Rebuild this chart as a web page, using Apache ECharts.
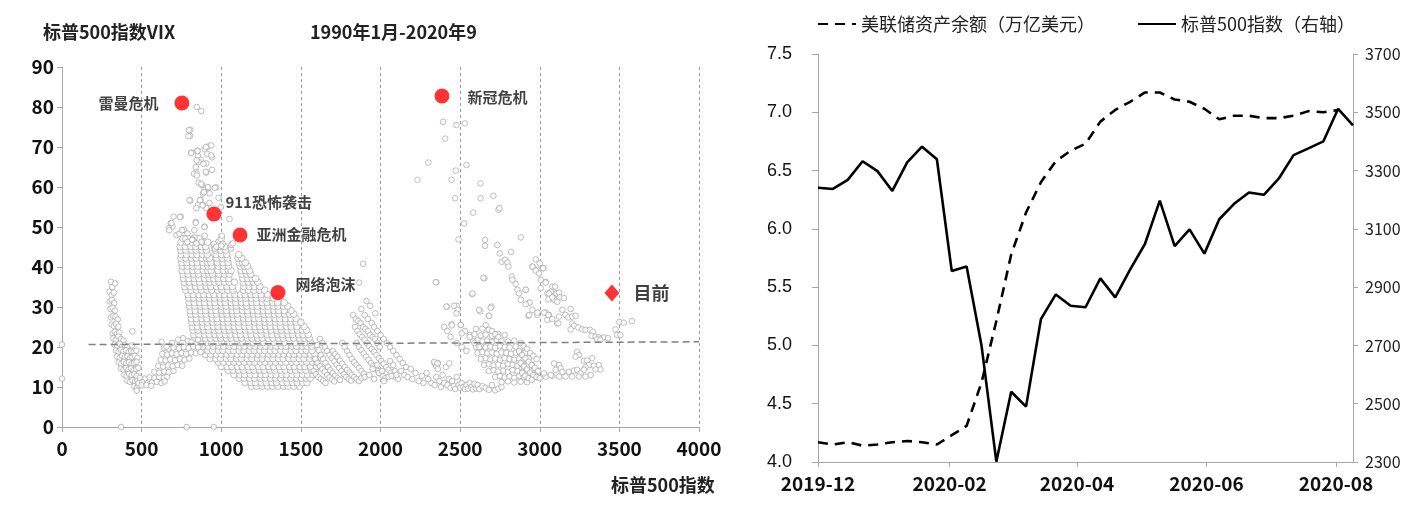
<!DOCTYPE html>
<html><head><meta charset="utf-8">
<script src="https://cdn.jsdelivr.net/npm/echarts@6/dist/echarts.min.js"></script>
<style>html,body{margin:0;padding:0;background:#fff}#c{width:1418px;height:505px}</style>
</head><body><div id="c"></div>
<script>
const MIX = '"Liberation Sans Narrow","Noto Sans CJK SC",sans-serif';
const CJK = '"Noto Sans CJK SC",sans-serif';

// ---------- Left panel: S&P500 vs VIX (1990-2020) ----------
const xTicksLeft = [0, 500, 1000, 1500, 2000, 2500, 3000, 3500, 4000];
const yTicksLeft = [0, 10, 20, 30, 40, 50, 60, 70, 80, 90];

const crisisNames = ['雷曼危机', '新冠危机', '911恐怖袭击', '亚洲金融危机', '网络泡沫'];
const crisisSpx = [753, 2386, 954, 1118, 1356];
const crisisVix = [81, 82.75, 53.25, 48, 33.6];
const currentName = ['目前'];
const currentSpx = [3453];
const currentVix = [33.5];

const meanLineSpx = [167, 4000];
const meanLineVix = [20.6, 21.3];

const oddPoints = [[0,20.6],[0,12.1],[371,0],[783,0],[953,0]];

const early1990s = [
[308,36.3],[316,35],[333,35.9],[298,33.8],[312,33],[326,33.6],[300,31.4],[314,31.8],[328,31],
[304,29.5],[318,29.8],[332,29.1],[308,27.4],[322,27.8],[336,27.6],[350,26.9],
[312,25.6],[326,25.2],[340,25.8],[354,25.1],[318,23.4],[332,23.8],[346,23.3],[360,23.6],[442,23.9],
[322,22.2],[338,21.8],[354,22.6],[370,22],[386,21.6],
[330,20.6],[346,20.3],[362,20.8],[378,20.1],[394,20.5],[410,20.2],[440,20.4],
[338,19.1],[354,18.8],[370,19.3],[386,18.9],[402,19.2],[418,18.7],[434,19],[450,18.8],[466,19.1],
[346,17.6],[362,17.3],[378,17.8],[394,17.4],[410,17.7],[426,17.2],[442,17.5],[458,17.8],[474,17.3],
[356,16.1],[372,15.8],[388,16.3],[404,15.9],[420,16.2],[436,15.7],[452,16],[468,16.3],
[370,14.6],[386,14.3],[402,14.8],[418,14.4],[434,14.7],[450,14.2],[466,14.5],[480,14.8],
[390,13.1],[406,12.8],[422,13.3],[438,12.9],[454,13.2],[470,12.7],
[410,11.6],[426,11.3],[442,11.7],[458,11.4],[474,11.6],[455,10.2],[470,9.8],[480,10.4],[469,9.1]
];

const mid1990s = [
[490,12.3],[520,12.1],[550,12.4],[580,12.2],[610,12.5],[640,12.3],[660,12.6],
[480,11],[505,11.2],[535,10.9],[565,11.1],[595,11.3],[625,11],[645,11.4],
[500,10.4],[530,10.5],[560,10.3],
[580,13.8],[610,13.6],[640,13.9],[670,13.7],[700,14],
[605,15.3],[635,15.1],[665,15.4],[695,15.2],[725,15.5],[755,15.3],
[620,16.8],[650,16.6],[680,16.9],[710,16.7],[740,17],[770,16.8],[800,17.1],
[630,18.3],[660,18.1],[690,18.4],[720,18.2],[750,18.5],[780,18.3],[810,18.6],[840,18.4],[870,18.7],
[640,19.8],[668,19.6],[700,19.9],[735,19.7],[765,20],[795,19.8],[825,20.1],[855,19.9],
[625,21.3],[656,20.1],[690,21],[729,21.8],[760,22.2],[790,21.5],[813,21.3],[854,21.8]
];

// dense 1997-2012 mass: [VIX, [S&P values]]
const denseRows = [
[10.2,[1190,1221,1257,1290,1322,1356,1391,1420,1455,1490]],
[11.1,[1150,1186,1215,1251,1283,1318,1347,1384,1414,1449,1478,1512,1538]],
[12.2,[1112,1143,1179,1210,1245,1276,1311,1342,1372,1409,1438,1473,1503,1535,1558]],
[13.1,[1080,1117,1147,1183,1213,1249,1279,1315,1345,1381,1410,1446,1476,1511,1542,1575]],
[14.2,[1043,1074,1109,1139,1175,1205,1240,1270,1306,1335,1371,1401,1436,1466,1501,1531,1565,1590]],
[15.1,[1001,1037,1067,1102,1132,1168,1198,1233,1263,1299,1328,1364,1394,1429,1459,1495,1525,1561,1598]],
[16.2,[982,1013,1049,1079,1114,1144,1180,1210,1246,1275,1311,1341,1377,1406,1442,1472,1507,1537,1573,1600]],
[17.1,[930,966,996,1032,1061,1097,1127,1163,1193,1228,1258,1294,1324,1359,1389,1425,1455,1490,1520,1556,1588]],
[18.2,[902,933,969,999,1035,1064,1100,1130,1166,1195,1231,1261,1297,1326,1362,1392,1428,1457,1493,1523,1559,1588]],
[19.1,[880,916,946,982,1011,1047,1077,1113,1142,1178,1208,1244,1273,1309,1339,1375,1404,1440,1470,1506,1535,1570]],
[20.2,[851,884,919,949,985,1014,1050,1080,1116,1145,1181,1211,1247,1276,1312,1342,1378,1407,1443,1473,1509,1538,1568]],
[21.1,[842,873,909,939,975,1004,1040,1070,1106,1135,1171,1201,1237,1266,1302,1332,1368,1397,1433,1463,1499,1528,1560]],
[22.2,[834,866,901,931,967,996,1032,1062,1098,1127,1163,1193,1229,1258,1294,1324,1360,1389,1425,1455,1491,1520,1552]],
[23.1,[828,860,895,925,961,990,1026,1056,1092,1121,1157,1187,1223,1252,1288,1318,1354,1383,1419,1449,1485,1514,1546]],
[24.2,[823,855,890,920,956,985,1021,1051,1087,1116,1152,1182,1218,1247,1283,1313,1349,1378,1414,1444,1480,1509,1535]],
[25.1,[818,850,885,915,951,980,1016,1046,1082,1111,1147,1177,1213,1242,1278,1308,1344,1373,1409,1439,1475,1520]],
[26.2,[815,847,882,912,948,977,1013,1043,1079,1108,1144,1174,1210,1239,1275,1305,1341,1370,1406,1436,1470,1500]],
[27.1,[812,844,879,909,945,974,1010,1040,1076,1105,1141,1171,1207,1236,1272,1302,1338,1367,1403,1437,1470]],
[28.2,[808,840,875,905,941,970,1006,1036,1072,1101,1137,1167,1203,1232,1268,1298,1334,1363,1399,1430,1456]],
[29.1,[805,837,872,902,938,967,1003,1033,1069,1098,1134,1164,1200,1229,1265,1295,1331,1360,1396,1438]],
[30.2,[802,834,869,899,935,964,1000,1030,1066,1095,1131,1161,1197,1226,1262,1292,1328,1357,1392,1417]],
[31.1,[798,830,865,895,931,960,996,1026,1062,1091,1127,1157,1193,1222,1258,1288,1324,1353,1395]],
[32.2,[795,827,862,892,928,957,993,1023,1059,1088,1124,1154,1190,1219,1255,1287,1330]],
[33.1,[792,824,859,889,925,954,990,1020,1056,1085,1121,1151,1187,1216,1250,1290]],
[34.2,[778,810,845,875,911,940,976,1006,1042,1073,1140,1171,1205,1240,1272]],
[35.1,[772,804,839,869,905,934,970,1000,1036,1070,1142,1176,1208,1242]],
[36.2,[767,799,834,864,900,929,958,986,1020,1050,1083,1138,1170,1201,1229]],
[37.1,[763,795,830,860,896,925,952,982,1016,1047,1135,1166,1194,1215]],
[38.2,[760,792,827,857,893,922,945,985,1019,1050,1130,1159,1185]],
[39.1,[754,786,821,851,887,916,937,979,1013,1045,1062,1125,1152,1177]],
[40.2,[755,787,822,852,888,917,940,981,1014,1046,1120,1144,1165]],
[41.1,[752,784,819,849,885,914,935,976,1010,1042,1112,1134,1152]],
[42.2,[746,778,813,843,879,908,927,972,1006,1038,1105,1128]],
[43.1,[750,782,817,847,883,912,968,1002,1034,1110]],
[44.2,[745,777,812,842,878,907,962,996,1028]],
[45.1,[742,774,809,839,875,902,958,991,1021]],
[46.2,[748,780,815,845,881,915,985]],
[47.1,[760,792,827,861,1000]]
];

const crashHigh = [
[806,74.3],[804,72.8],[812,68.6],[850,69.1],[854,67.8],[871,66.8],[858,66.3],[896,69.4],[917,70.1],[937,70.4],
[912,68.3],[942,67.4],[906,65.9],[844,63.6],[829,63.3],[906,63.6],[942,64.3],[858,61.1],[879,60.5],[896,59.3],
[917,59.7],[969,59.9],[885,58.4],[927,58.4],[806,56.6],[871,56.8],[854,55.5],[885,55.5],[906,54.7],[844,54.7],
[700,52.6],[746,52.6],[683,50.9],[694,50.1],[671,49.7],[840,51.3],[896,50.1],[1052,52],[767,49.3],[788,48.4],
[719,48],[833,47.4],[896,47.8],[823,46.8],[844,45.9],[875,46.3],
[846,80],[874,79],[797,74.2],[794,72.7],[903,70],[811,68.5],[851,69],[937,67.9],[846,66.7],[889,65.8],
[840,65],[903,63.8],[846,62.9],[874,60.8],[917,60],[960,59.8],[891,58.7],[800,56.7],[866,56.7],[883,55.4],
[926,56],[983,57.3],[998,55],[740,52.5],[688,51],[674,49.2],[737,48.3],[840,51],[894,50],[831,49.2],
[754,49.2],[774,47.1],[788,46.3],[817,46.8],[1061,44.6],[1009,45.8],[975,45.4],[960,44.6],[1063,45.5],
[1073,45.9],[954,45.8],[969,45.1],[1000,45.3],[1004,47.8]
];

const mid2010s = [
[1600,20.5],[1612,19.2],[1625,18],[1640,17],[1655,16],[1670,15],[1685,14.2],[1700,13.5],[1715,12.8],[1730,12.2],[1745,11.8],
[1620,22],[1635,21],[1650,20],[1665,19],[1680,18],[1695,17.2],[1710,16.4],[1725,15.6],[1740,14.8],[1755,14],[1770,13.2],[1785,12.5],[1800,12],[1815,11.6],
[1590,17],[1605,16],[1620,15.2],[1635,14.5],[1650,13.8],[1665,13],[1680,12.4],[1695,11.9],[1710,11.4],
[1580,14],[1595,13.2],[1610,12.5],[1625,12],[1640,11.5],[1655,11],
[1700,19],[1715,18.2],[1730,17.5],[1745,16.6],[1760,15.8],[1775,15],[1790,14.3],[1805,13.6],[1820,13],[1835,12.5],[1850,12],[1865,11.5],[1880,12.2],
[1760,21],[1775,20],[1790,19],[1805,18],[1820,17],[1835,16.2],[1850,15.5],[1865,14.8],[1880,14],[1895,13.3],
[1828,28],[1845,27],[1860,26.5],[1875,26],[1890,25],[1905,24.5],[1920,24],[1935,23],[1950,22.5],[1965,22],[1980,21],[1995,20],
[1840,25],[1855,24],[1870,23.2],[1885,22.5],[1900,21.8],[1915,21],[1930,20.2],[1945,19.5],[1960,18.8],[1975,18],[1990,17.2],[2005,16.5],[2020,15.8],[2035,15],[2050,14.3],[2065,13.6],[2080,13],[2095,12.5],[2110,12],
[1850,21],[1865,20],[1880,19.2],[1895,18.4],[1910,17.6],[1925,16.8],[1940,16],[1955,15.3],[1970,14.6],[1985,14],[2000,13.4],[2015,12.8],[2030,12.2],
[1891,40.8],[1866,36.1],[1912,31.5],[1935,30.3],[1967,28.4],[1880,29.5],[1900,28],[1920,27],[1945,26],[1960,25],[1980,24],[2000,23],[2020,22],[2040,21],[2060,20],[2080,19],[2100,18],[2120,17],[2140,16],[2160,15],
[1900,12.5],[1930,13],[1960,12],[1990,13.5],[2020,11.5],[2050,12.5],[1950,14.5],[1980,15.5],[2010,14],[2070,12.8],[2090,14],[2100,13],[2080,15.5],[2060,16.5]
];

const late2010s = [
[2130,14],[2150,13],[2170,12.5],[2190,14.5],[2200,12],[2220,13.5],[2240,11.5],[2260,12.8],[2270,11],[2290,13.5],[2300,12],[2320,11],
[2340,10.5],[2350,12.5],[2360,16],[2370,11.5],[2380,10],[2390,13],[2400,11],[2410,15],[2420,10.5],[2430,12],[2440,9.8],[2450,11.5],
[2460,10.2],[2470,9.5],[2480,12.5],[2490,10.5],[2500,9.8],[2510,11],[2520,10],[2530,9.5],[2540,10.5],[2550,9.6],[2560,11],[2570,10],
[2580,9.4],[2590,10.8],[2600,9.6],[2610,10.5],[2620,9.5],[2640,10.2],[2660,9.8],[2680,9.3],[2700,10.5],[2720,9.2],[2740,9.6],[2760,10],
[2340,16],[2350,15.2],[2360,14.5],[2337,16.3],[2358,15.9],[2431,15.9],
[2600,24.5],[2640,24.6],[2680,24.3],
[2560,23],[2590,23.2],[2630,22.9],[2660,23.1],[2700,22.8],[2740,23.2],[2780,23],
[2580,21.5],[2610,21.7],[2640,21.4],[2670,21.6],[2700,21.3],[2730,21.7],[2760,21.5],[2800,21.4],[2840,21.6],
[2600,20],[2630,20.2],[2660,19.9],[2690,20.1],[2720,19.8],[2750,20.2],[2780,20],[2810,19.9],[2850,20.1],[2880,19.8],
[2610,18.5],[2640,18.7],[2670,18.4],[2700,18.6],[2730,18.3],[2760,18.6],[2790,18.5],[2820,18.3],[2850,18.6],[2880,18.4],[2910,18.6],
[2630,17],[2660,17.2],[2690,16.9],[2720,17.1],[2750,16.8],[2780,17.2],[2810,17],[2840,16.8],[2870,17.1],[2900,16.9],[2930,17.2],
[2650,15.5],[2680,15.7],[2710,15.4],[2740,15.6],[2770,15.3],[2800,15.7],[2830,15.5],[2860,15.3],[2890,15.6],[2920,15.4],[2950,15.6],
[2680,14],[2710,14.2],[2740,13.9],[2770,14.1],[2800,13.8],[2830,14.2],[2860,14],[2890,13.8],[2920,14.1],[2950,13.9],[2980,14.1],
[2720,12.5],[2750,12.7],[2780,12.4],[2810,12.6],[2840,12.3],[2870,12.7],[2900,12.5],[2930,12.3],[2960,12.6],[2990,12.4],
[2760,11.2],[2800,11.4],[2840,11.1],[2880,11.3],[2920,11.2],
[2653,37.2],[2576,33.2],[2627,28.9],[2697,30.1],[2679,27.8],[2660,25.5],[2700,24],[2720,23.2],[2740,22.5],
[2351,36.2],[2417,30.1],[2480,30.3],[2446,25.7],[2504,25.5],[2530,24],[2560,22.5],[2590,21],[2620,20],[2480,21],[2510,20],[2540,19],
[2400,25],[2420,24],[2440,22.5],[2414,30.1],[2463,30.3],[2484,29.3],[2477,28.4],[2448,25.4],[2510,23.4],
[2880,21],[2900,20.2],[2920,19.5],[2940,18.5],[2960,17.8],[2980,17],[2870,19],[2890,18],[2910,17.2],[2930,16.3],[2950,15.5],[2970,14.8],[2990,14],
[2880,16],[2900,15.2],[2920,14.4],[2940,13.6],[2960,13],[2980,12.5],[3000,12.2],[2890,13.5],[2910,12.8],[2930,12.2],[2950,11.8]
];

const covid2020 = [
[2393,76.3],[2477,75.5],[2529,75.9],[2406,72.1],[2301,66.1],[2232,61.8],[2473,64.1],[2540,65.5],[2446,61.8],[2469,57.2],
[2628,60.9],[2628,57.2],[2709,57.8],[2741,54.3],[2747,54.7],[2582,53.6],[2525,50.9],[2490,46.9],[2656,46.8],[2656,45.3],
[2734,45.5],[2749,43.4],[2820,43.8],[2761,41.3],[2782,41.8],[2797,41.1],[2803,40.1],[2881,47.4],[2347,36.2],[2646,37.3],
[2577,33.4],[2619,29.3],[2692,29.8],[2682,27.8],[2504,25.5],
[2824,37.6],[2828,36.8],[2849,35.8],[2860,34.3],[2870,33.4],[2881,31.8],[2912,34.3],[2933,31.1],[2929,27.8],[2954,40.1],
[2975,41.9],[2985,39.3],[3000,40.9],[3023,39.7],[3006,36.8],[3006,34.7],[3037,36.3],[3048,33.4],[3079,35.1],[3100,33.4],
[3090,31.8],[3037,28.6],[3058,28],[3110,25.9],[2985,28],[3048,26.8],
[2954,40.1],[3021,39.7],[2975,39.1],[2996,38.4],[3037,36.1],[2912,34.3],[3096,35.1],[3069,33.8],[3058,33.4],[3106,33.4],
[3121,33.6],[3054,31.9],[3079,32.4],[3125,32.4],[3110,31.3],[3152,32.2],[2937,31.1],[2912,30.7],[2954,29.3],[3142,29.3],
[3194,29.5],[2933,28],[2985,28.6],[3027,28.6],[3054,28],[3079,27],[3121,27.6],[3162,28],[3179,27.4],[3204,27.6],
[3225,27.8],[3117,25.9],[3204,25.9],[3215,25.3],[3194,24.4],[3242,24.9],[3267,24.4],[3287,24.3],[3315,24.3],[3333,23.8],
[3325,22.8],[3350,22.6],[3371,22.4],[3392,22.2],[3402,22.4],[3429,22.2],[3360,21.9],[3381,21.8],[3475,24.4],[3485,23],
[3506,23],[3500,26.3],[3527,26.1],[3579,26.5],
[3235,18.8],[3246,18],[3225,17.6],[3277,16.6],[3298,16.6],[3329,17.2],[3308,15.5],[3340,15.3],[3371,15.5],[3381,14.4],
[3350,14.4],[3287,14.9],[3277,14.3],[3090,15.9],[3121,15.5],[3131,14.7],[3100,14.3],[3142,13.8],[3183,13.8],[3215,14.1],
[3235,14.3],[3256,13.4],[3319,13],[3287,12.6],[3246,12.6],[3204,12.6],[3162,12.6],[3121,12.6],[3079,12.8],[3037,12.6],
[3027,13.4],[3069,13]
];

// ---------- Right panel: Fed assets vs S&P500 weekly ----------
const weekDates = ['2019-12-01','2019-12-08','2019-12-15','2019-12-22','2019-12-29','2020-01-05','2020-01-12','2020-01-19','2020-01-26',
'2020-02-02','2020-02-09','2020-02-16','2020-02-23','2020-03-01','2020-03-08','2020-03-15','2020-03-22','2020-03-29',
'2020-04-05','2020-04-12','2020-04-19','2020-04-26','2020-05-03','2020-05-10','2020-05-17','2020-05-24','2020-05-31',
'2020-06-07','2020-06-14','2020-06-21','2020-06-28','2020-07-05','2020-07-12','2020-07-19','2020-07-26','2020-08-02','2020-08-09'];
const fedAssets = [4.17,4.15,4.17,4.14,4.15,4.17,4.18,4.17,4.15,4.23,4.31,4.68,5.21,5.78,6.14,6.40,6.58,6.67,6.73,6.92,7.02,7.09,7.17,7.17,7.11,7.09,7.03,6.94,6.97,6.97,6.95,6.95,6.97,7.01,7.00,7.02];
const spxWeekly = [3241,3237,3268,3332,3298,3230,3328,3382,3339,2955,2971,2701,2301,2541,2490,2790,2875,2836,2831,2930,2865,2960,3048,3197,3041,3098,3015,3133,3186,3225,3217,3272,3353,3376,3400,3512,3455];
const rightXLabelDates = ['2019-12-01','2020-02-01','2020-04-01','2020-06-01','2020-08-01'];
const legendNames = ['美联储资产余额（万亿美元）', '标普500指数（右轴）'];

function localTs(s){ const p = s.split('-').map(Number); return Date.UTC(p[0], p[1]-1, p[2]); }
function fmtMonth(v){ const d = new Date(v); return d.getUTCFullYear() + '-' + String(d.getUTCMonth()+1).padStart(2,'0'); }
function plain(v){ return String(v); }

const scatterSparse = [].concat(oddPoints, early1990s, mid1990s, crashHigh, mid2010s, late2010s, covid2020);
const scatterDense = [];
denseRows.forEach(function(r){ r[1].forEach(function(x){ scatterDense.push([x, r[0]]); }); });

const crisisData = crisisNames.map(function(n, i){ return {name: n, value: [crisisSpx[i], crisisVix[i]]}; });
const labelOffsets = {'雷曼危机': {position:'left', distance: 16, offset:[0,0]},
  '新冠危机': {position:'right', distance: 18, offset:[0,1]},
  '911恐怖袭击': {position:'right', distance: 4, offset:[0,-12]},
  '亚洲金融危机': {position:'right', distance: 9, offset:[0,-1]},
  '网络泡沫': {position:'right', distance: 10, offset:[0,-8]}};
crisisData.forEach(function(d){ const o = labelOffsets[d.name]; d.label = {show:true, position:o.position, distance:o.distance, offset:o.offset}; });

const axisGray = '#a6a6a6';
const ptStyle = {color:'#ffffff', borderColor:'#a4a4a4', borderWidth:0.9};
const chart = echarts.init(document.getElementById('c'), null, {renderer:'canvas'});
chart.setOption({
  animation: false,
  backgroundColor: '#fff',
  title: [
    {text:'标普500指数VIX', left:38, top:18, textStyle:{fontSize:18, fontWeight:'bold', fontFamily:MIX, color:'#222'}},
    {text:'1990年1月-2020年9', left:305, top:18, textStyle:{fontSize:18, fontWeight:'bold', fontFamily:MIX, color:'#222'}},
    {text:'标普500指数', left:606, top:471, textStyle:{fontSize:18, fontWeight:'bold', fontFamily:MIX, color:'#222'}}
  ],
  legend: {
    data: legendNames, left: 812, top: 10, itemWidth: 38, itemHeight: 12, itemGap: 42,
    itemStyle: {opacity: 0},
    textStyle: {fontSize: 18, fontFamily: CJK, color: '#222'}
  },
  grid: [
    {left: 62, right: 719, top: 67, bottom: 78},
    {left: 818, right: 65, top: 54, bottom: 43}
  ],
  xAxis: [
    {gridIndex:0, type:'value', min:xTicksLeft[0], max:xTicksLeft[xTicksLeft.length-1], interval:500,
     axisLine:{show:true, lineStyle:{color:axisGray}}, axisTick:{show:true, length:5, lineStyle:{color:axisGray}},
     axisLabel:{fontSize:19, fontWeight:'bold', fontFamily:MIX, color:'#111', margin:12, formatter: plain},
     splitLine:{show:true, lineStyle:{color:'#9a9a9a', type:[3,3], width:1}}},
    {gridIndex:1, type:'value', min: localTs(weekDates[0]), max: localTs(weekDates[weekDates.length-1]),
     axisLine:{show:true, lineStyle:{color:axisGray}},
     axisTick:{show:true, length:5, lineStyle:{color:axisGray}, customValues: rightXLabelDates.map(localTs)},
     axisLabel:{fontSize:19, fontWeight:'bold', fontFamily:MIX, color:'#111', margin:12,
       customValues: rightXLabelDates.map(localTs), formatter: fmtMonth},
     splitLine:{show:false}}
  ],
  yAxis: [
    {gridIndex:0, type:'value', min:yTicksLeft[0], max:yTicksLeft[yTicksLeft.length-1], interval:10,
     axisLine:{show:true, lineStyle:{color:axisGray}}, axisTick:{show:true, length:5, lineStyle:{color:axisGray}},
     axisLabel:{fontSize:19, fontWeight:'bold', fontFamily:MIX, color:'#111', margin:8, formatter: plain},
     splitLine:{show:false}},
    {gridIndex:1, type:'value', min:4, max:7.5, interval:0.5, position:'left',
     axisLine:{show:true, lineStyle:{color:axisGray}}, axisTick:{show:true, length:6, lineStyle:{color:axisGray}},
     axisLabel:{fontSize:18, fontFamily:'"Liberation Sans",sans-serif', color:'#111', margin:26,
       formatter: function(v){ return v.toFixed(1); }},
     splitLine:{show:false}},
    {gridIndex:1, type:'value', min:2300, max:3700, interval:200, position:'right',
     axisLine:{show:true, lineStyle:{color:axisGray}}, axisTick:{show:true, length:5, lineStyle:{color:axisGray}},
     axisLabel:{fontSize:16, fontFamily:MIX, color:'#222', margin:12, formatter: plain},
     splitLine:{show:false}}
  ],
  series: [
    {type:'scatter', xAxisIndex:0, yAxisIndex:0, data: scatterDense, symbol:'circle', symbolSize:6.6,
     progressive:0, large:false, silent:true, itemStyle: ptStyle, z:2},
    {type:'scatter', xAxisIndex:0, yAxisIndex:0, data: scatterSparse, symbol:'circle', symbolSize:5.6,
     progressive:0, large:false, silent:true, itemStyle: ptStyle, z:2},
    {type:'line', xAxisIndex:0, yAxisIndex:0, data: meanLineSpx.map(function(x,i){return [x, meanLineVix[i]];}),
     symbol:'none', lineStyle:{color:'#808080', width:1.5, type:[7,4]}, z:4, silent:true},
    {type:'scatter', xAxisIndex:0, yAxisIndex:0, data: crisisData, symbol:'circle', symbolSize:15,
     itemStyle:{color:'#ff0000'}, z:5,
     label:{show:true, formatter:'{b}', fontSize:15, fontWeight:'bold', fontFamily:MIX, color:'#111'}},
    {type:'scatter', xAxisIndex:0, yAxisIndex:0,
     data: currentName.map(function(n,i){return {name:n, value:[currentSpx[i], currentVix[i]]};}),
     symbol:'diamond', symbolSize:[15,17], itemStyle:{color:'#ff0000'}, z:5,
     label:{show:true, position:'right', distance:14, formatter:'{b}', fontSize:18, fontWeight:'bold', fontFamily:CJK, color:'#111'}},
    {name: legendNames[0], type:'line', xAxisIndex:1, yAxisIndex:1,
     data: fedAssets.map(function(v,i){return [localTs(weekDates[i]), v];}),
     symbol:'none', lineStyle:{color:'#000', width:2.6, type:[10,7]}, itemStyle:{color:'#000'}},
    {name: legendNames[1], type:'line', xAxisIndex:1, yAxisIndex:2,
     data: spxWeekly.map(function(v,i){return [localTs(weekDates[i]), v];}),
     symbol:'none', lineStyle:{color:'#000', width:2.6}, itemStyle:{color:'#000'}}
  ]
});
</script></body></html>
